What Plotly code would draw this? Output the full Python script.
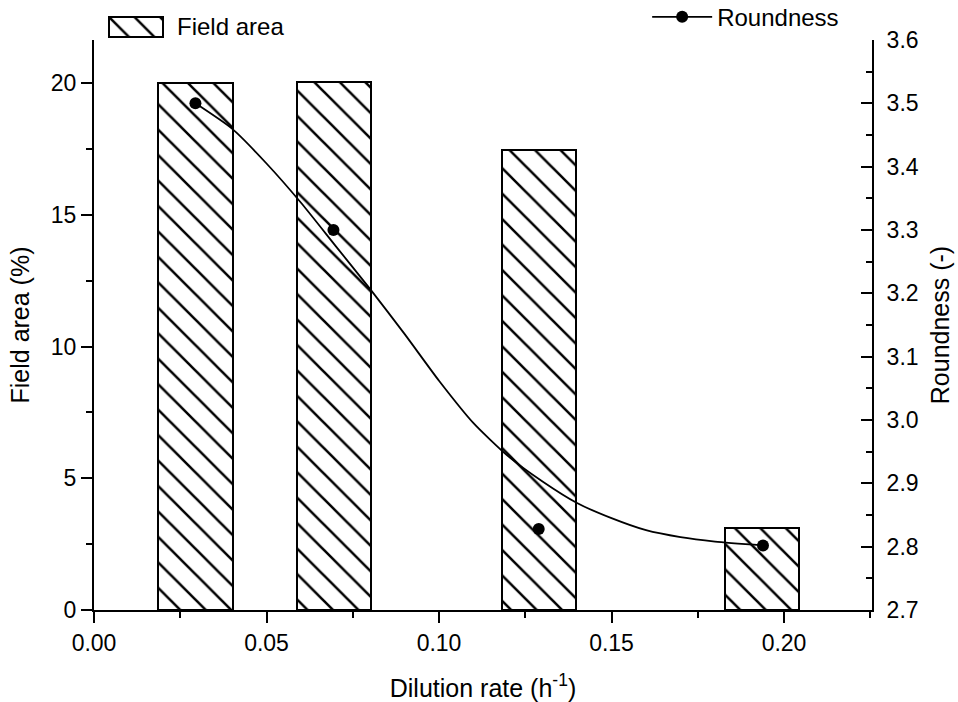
import plotly.graph_objects as go

# ---- data ----
dilution = [0.0294, 0.0696, 0.1289, 0.1935]
field_area = [20.0, 20.06, 17.47, 3.12]
roundness_x = [0.0294, 0.0694, 0.1289, 0.1939]
roundness = [3.50, 3.30, 2.828, 2.802]
fit_x = [0.0294, 0.040, 0.050, 0.060, 0.070, 0.080, 0.090, 0.100, 0.110,
         0.120, 0.130, 0.140, 0.150, 0.160, 0.170, 0.180, 0.1939]
fit_y = [3.500, 3.460, 3.405, 3.343, 3.275, 3.207, 3.136, 3.062, 2.995,
         2.943, 2.903, 2.869, 2.845, 2.826, 2.815, 2.808, 2.802]
x_ticks = [0.00, 0.05, 0.10, 0.15, 0.20]
legend_swatch = [1]

FONT = "Liberation Sans, Arial, sans-serif"
FS = 23
FT = 25

MAIN_TOP = 0.95

hatch = dict(shape="\\", size=18, solidity=0.14, fgcolor="black", fgopacity=1,
             bgcolor="white")

fig = go.Figure()
fig.add_trace(go.Bar(
    x=dilution, y=field_area, width=0.0215, name="Field area",
    marker=dict(color="white", line=dict(color="black", width=2), pattern=hatch),
    showlegend=False,
))
# legend swatch for the bars
fig.add_trace(go.Bar(
    x=[0], y=legend_swatch, width=1, xaxis="x3", yaxis="y3",
    marker=dict(color="white", line=dict(color="black", width=2), pattern=hatch),
    showlegend=False, hoverinfo="skip",
))
fig.add_trace(go.Scatter(
    x=fit_x, y=fit_y, mode="lines",
    line=dict(color="black", width=1.8, shape="spline", smoothing=0.6),
    yaxis="y2", showlegend=False,
))
fig.add_trace(go.Scatter(
    x=roundness_x, y=roundness, mode="markers",
    marker=dict(color="black", size=12), yaxis="y2", showlegend=False,
))
fig.add_trace(go.Scatter(
    x=[None], y=[None], mode="lines+markers", name="Roundness",
    line=dict(color="black", width=1.8), marker=dict(color="black", size=12),
    yaxis="y2", legend="legend2",
))

axis_common = dict(showline=True, linecolor="black", linewidth=2, showgrid=False,
                   zeroline=False, tickcolor="black", tickwidth=2, ticklen=11,
                   automargin=False,
                   tickfont=dict(family=FONT, size=FS, color="black"))

fig.update_layout(
    width=958, height=702,
    margin=dict(l=94, r=86, t=10, b=92, autoexpand=False),
    paper_bgcolor="white", plot_bgcolor="white",
    font=dict(family=FONT, size=FS, color="black"),
    bargap=0,
    xaxis=dict(**axis_common, range=[0, 0.2255], tickvals=x_ticks, tickformat=".2f",
               ticks="outside",
               minor=dict(dtick=0.025, ticklen=6, ticks="outside", tickcolor="black", tickwidth=2),
               title=dict(text="Dilution rate (h<sup>-1</sup>)", standoff=26,
                          font=dict(family=FONT, size=FT))),
    yaxis=dict(**axis_common, range=[0, 21.64], dtick=5, ticks="outside",
               domain=[0, MAIN_TOP],
               minor=dict(dtick=2.5, ticklen=6, ticks="outside", tickcolor="black", tickwidth=2),
               title=dict(text="Field area (%)", standoff=14,
                          font=dict(family=FONT, size=FT))),
    yaxis2=dict(**axis_common, range=[2.7, 3.6], dtick=0.1, tickformat=".1f",
                overlaying="y", side="right", ticks="inside", ticklabelstandoff=8,
                minor=dict(dtick=0.05, ticklen=6, ticks="inside", tickcolor="black", tickwidth=2),
                title=dict(text="Roundness (-)", standoff=14,
                           font=dict(family=FONT, size=FT))),
    xaxis3=dict(domain=[0.0180, 0.0900], range=[-0.52, 0.52], visible=False,
                anchor="y3", fixedrange=True),
    yaxis3=dict(domain=[0.953, 0.990], range=[-0.05, 1.05], visible=False,
                anchor="x3", fixedrange=True),
    annotations=[dict(text="Field area", x=0.104, y=0.9717, xref="paper", yref="paper",
                      xanchor="left", yanchor="middle", showarrow=False,
                      font=dict(family=FONT, size=24, color="black"))],
    legend2=dict(x=0.711, y=0.988, xanchor="left", yanchor="middle", bgcolor="rgba(0,0,0,0)",
                 font=dict(family=FONT, size=24), itemwidth=60),
)

fig.write_html("out.html")
